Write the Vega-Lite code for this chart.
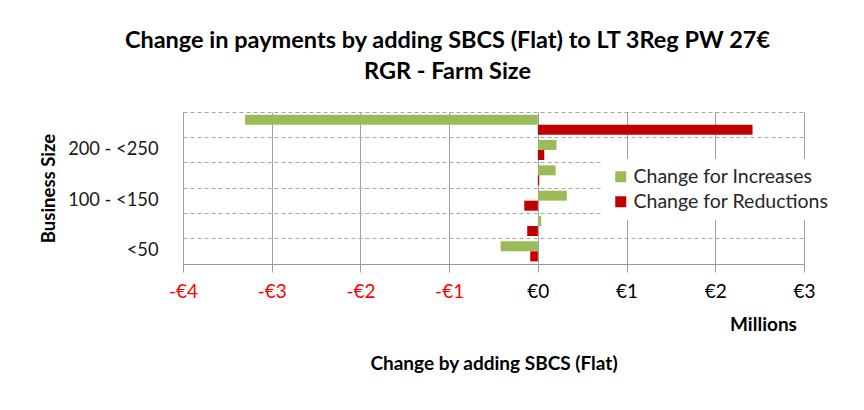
{
  "$schema": "https://vega.github.io/schema/vega-lite/v6.json",
  "autosize": "none",
  "width": 621,
  "height": 152,
  "padding": {"left": 183, "top": 112, "right": 60, "bottom": 146},
  "background": "white",
  "title": {
    "text": ["Change in payments by adding SBCS (Flat) to LT 3Reg PW 27€", "RGR - Farm Size"],
    "font": "Lato",
    "fontSize": 23.5,
    "fontWeight": "bold",
    "color": "#000000",
    "lineHeight": 31,
    "offset": 29,
    "dx": -46,
    "anchor": "middle"
  },
  "config": {"view": {"stroke": null}},
  "data": {
    "values": [
      {"size": "≥250", "series": "Change for Increases", "value": -3.30},
      {"size": "≥250", "series": "Change for Reductions", "value": 2.42},
      {"size": "200 - <250", "series": "Change for Increases", "value": 0.21},
      {"size": "200 - <250", "series": "Change for Reductions", "value": 0.072},
      {"size": "150 - <200", "series": "Change for Increases", "value": 0.20},
      {"size": "150 - <200", "series": "Change for Reductions", "value": 0.015},
      {"size": "100 - <150", "series": "Change for Increases", "value": 0.327},
      {"size": "100 - <150", "series": "Change for Reductions", "value": -0.153},
      {"size": "50 - <100", "series": "Change for Increases", "value": 0.038},
      {"size": "50 - <100", "series": "Change for Reductions", "value": -0.12},
      {"size": "<50", "series": "Change for Increases", "value": -0.42},
      {"size": "<50", "series": "Change for Reductions", "value": -0.086}
    ]
  },
  "layer": [
    {
      "mark": {"type": "bar"},
      "encoding": {
        "y": {
          "field": "size",
          "type": "nominal",
          "sort": ["≥250", "200 - <250", "150 - <200", "100 - <150", "50 - <100", "<50"],
          "scale": {"paddingInner": 0, "paddingOuter": 0},
          "axis": {
            "title": "Business Size",
            "titleFont": "Lato",
            "titleFontSize": 18.5,
            "titleFontWeight": "bold",
            "titleColor": "#000000",
            "titlePadding": 9,
            "bandPosition": 0,
            "labelExpr": "indexof(['<50','100 - <150','200 - <250'], datum.value) >= 0 ? datum.label : ''",
            "labelFont": "Lato",
            "labelFontSize": 18.3,
            "labelColor": "#1a1a1a",
            "labelPadding": 25,
            "ticks": false,
            "domain": false,
            "grid": true,
            "gridDash": [4, 3],
            "gridColor": "#a6a6a6",
            "gridWidth": 1
          }
        },
        "yOffset": {
          "field": "series",
          "sort": ["Change for Increases", "Change for Reductions"],
          "scale": {"paddingInner": 0, "paddingOuter": 0.265}
        },
        "x": {
          "field": "value",
          "type": "quantitative",
          "scale": {"domain": [-4, 3], "nice": false},
          "axis": {
            "values": [-4, -3, -2, -1, 0, 1, 2, 3],
            "labelExpr": "(datum.value < 0 ? '-€' : '€') + abs(datum.value)",
            "labelColor": {"condition": {"test": "datum.value < 0", "value": "#FF0000"}, "value": "#000000"},
            "labelFont": "Lato",
            "labelFontSize": 19,
            "labelFlush": false,
            "labelPadding": 10,
            "tickSize": 8,
            "tickColor": "#999999",
            "domainColor": "#999999",
            "grid": true,
            "gridColor": "#a0a0a0",
            "gridWidth": 1,
            "title": "Millions",
            "titleFont": "Lato",
            "titleFontSize": 19,
            "titleFontWeight": "bold",
            "titleColor": "#000000",
            "titleX": 580,
            "titleY": 60,
            "titleAlign": "center",
            "titleBaseline": "middle"
          }
        },
        "color": {
          "field": "series",
          "type": "nominal",
          "scale": {"domain": ["Change for Increases", "Change for Reductions"], "range": ["#9BBB59", "#C00000"]},
          "legend": {
            "title": null,
            "orient": "none",
            "legendX": 420,
            "legendY": 47,
            "symbolType": "square",
            "symbolSize": 121,
            "symbolStrokeWidth": 0,
            "labelFont": "Lato",
            "labelFontSize": 19.5,
            "labelLimit": 400,
            "labelColor": "#262626",
            "labelOffset": 3,
            "rowPadding": 4,
            "padding": 8,
            "fillColor": "white"
          }
        }
      }
    },
    {
      "mark": {"type": "rule", "opacity": 0},
      "encoding": {
        "x": {
          "field": "value",
          "type": "quantitative",
          "axis": {
            "orient": "bottom",
            "title": "Change by adding SBCS (Flat)",
            "titleFont": "Lato",
            "titleFontSize": 19,
            "titleFontWeight": "bold",
            "titleColor": "#000000",
            "titleY": 99,
            "titleBaseline": "middle",
            "labels": false,
            "ticks": false,
            "domain": false,
            "grid": false
          }
        }
      }
    }
  ],
  "resolve": {"axis": {"x": "independent"}}
}
